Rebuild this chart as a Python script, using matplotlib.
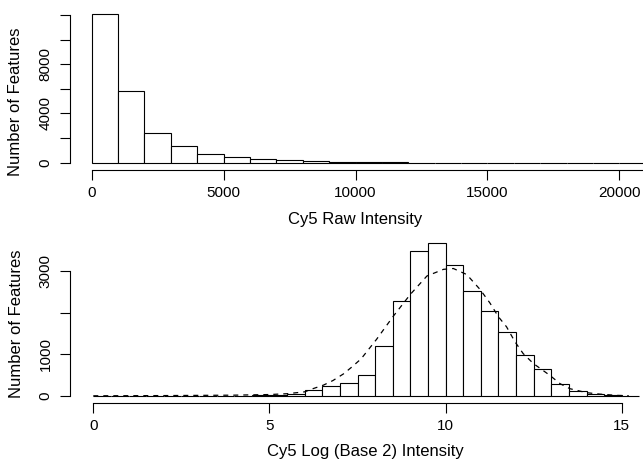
import matplotlib

matplotlib.use('Agg')
import matplotlib.pyplot as plt

# raw intensity histogram, bins of 1000
raw_edges = list(range(0, 22000, 1000))
raw_counts = [12080, 5825, 2440, 1355, 705, 430, 300, 190, 100, 60, 40,
              25, 15, 10, 8, 6, 5, 4, 3, 2, 2]

# log2 intensity histogram, bins of 0.5
log_edges = [i * 0.5 for i in range(32)]
log_counts = [2, 2, 2, 4, 4, 5, 6, 6, 8, 20, 35, 60, 140, 250, 320, 500,
              1190, 2285, 3475, 3660, 3155, 2515, 2050, 1540, 980, 640,
              300, 110, 55, 25, 5]

# dashed density curve
curve_x = [0, 2, 4, 5, 5.5, 6.0, 6.25, 6.53, 6.8, 7.1, 7.33, 7.6, 8.04,
           8.52, 9.0, 9.47, 9.94, 10.22, 10.6, 10.98, 11.26, 11.5, 11.73,
           11.97, 12.2, 12.49, 12.96, 13.25, 13.53, 14.0, 14.38, 14.86, 15.2]
curve_y = [5, 10, 20, 35, 55, 100, 180, 260, 370, 530, 690, 890, 1360,
           1920, 2440, 2880, 3040, 3060, 2915, 2555, 2230, 1900, 1660,
           1300, 1020, 780, 495, 295, 175, 80, 45, 15, 5]

raw_yticks = [0, 2000, 4000, 6000, 8000, 10000, 12000]
raw_ylabels = ['0', '', '4000', '', '8000', '', '']
raw_xticks = [0, 5000, 10000, 15000, 20000]
log_yticks = [0, 1000, 2000, 3000]
log_ylabels = ['0', '1000', '', '3000']
log_xticks = [0, 5, 10, 15]

plt.rcParams['font.family'] = ['Liberation Sans', 'DejaVu Sans']

W, H = 643, 466
fig = plt.figure(figsize=(W / 100, H / 100), dpi=100)


def px_axes(left, top, right, bottom):
    return fig.add_axes([left / W, 1 - bottom / H,
                         (right - left) / W, (bottom - top) / H])


def style(ax, yticks, ylabels, xticks, ybound, xbound):
    for side in ('top', 'right'):
        ax.spines[side].set_visible(False)
    ax.spines['left'].set_position(('outward', 7.2))
    ax.spines['bottom'].set_position(('outward', 2.9))
    ax.spines['left'].set_bounds(*ybound)
    ax.spines['bottom'].set_bounds(*xbound)
    for sp in ax.spines.values():
        sp.set_linewidth(0.8)
    ax.set_yticks(yticks)
    ax.set_yticklabels(ylabels, rotation=90, va='center')
    ax.set_xticks(xticks)
    ax.tick_params(axis='both', length=7.5, width=0.8, labelsize=11)
    ax.tick_params(axis='y', pad=5)
    ax.tick_params(axis='x', pad=4)


# top panel
ax1 = px_axes(80, 10, 643, 166)
ax1.bar(raw_edges[:-1], raw_counts, width=1000, align='edge',
        facecolor='white', edgecolor='black', linewidth=0.8)
ax1.set_xlim(-443.5, 20898)
ax1.set_ylim(-268, 12405)
style(ax1, raw_yticks, raw_ylabels, raw_xticks, (0, 12000), (0, 20898))
ax1.set_ylabel('Number of Features', fontsize=12)
ax1.yaxis.set_label_coords(-0.101, 0.413)
ax1.set_xlabel('Cy5 Raw Intensity', fontsize=12, va='center')
ax1.xaxis.set_label_coords(0.488, -0.340)

# bottom panel
ax2 = px_axes(80, 238, 643, 399)
ax2.bar(log_edges[:-1], log_counts, width=0.5, align='edge',
        facecolor='white', edgecolor='black', linewidth=0.8)
ax2.plot(curve_x, curve_y, color='black', linewidth=0.9,
         linestyle=(0, (4, 4)))
ax2.set_xlim(-0.3775, 15.603)
ax2.set_ylim(-72, 3792)
style(ax2, log_yticks, log_ylabels, log_xticks, (0, 3000), (0, 15))
ax2.set_ylabel('Number of Features', fontsize=12)
ax2.yaxis.set_label_coords(-0.0995, 0.466)
ax2.set_xlabel('Cy5 Log (Base 2) Intensity', fontsize=12, va='center')
ax2.xaxis.set_label_coords(0.506, -0.327)

fig.savefig('out.png', dpi=100)
